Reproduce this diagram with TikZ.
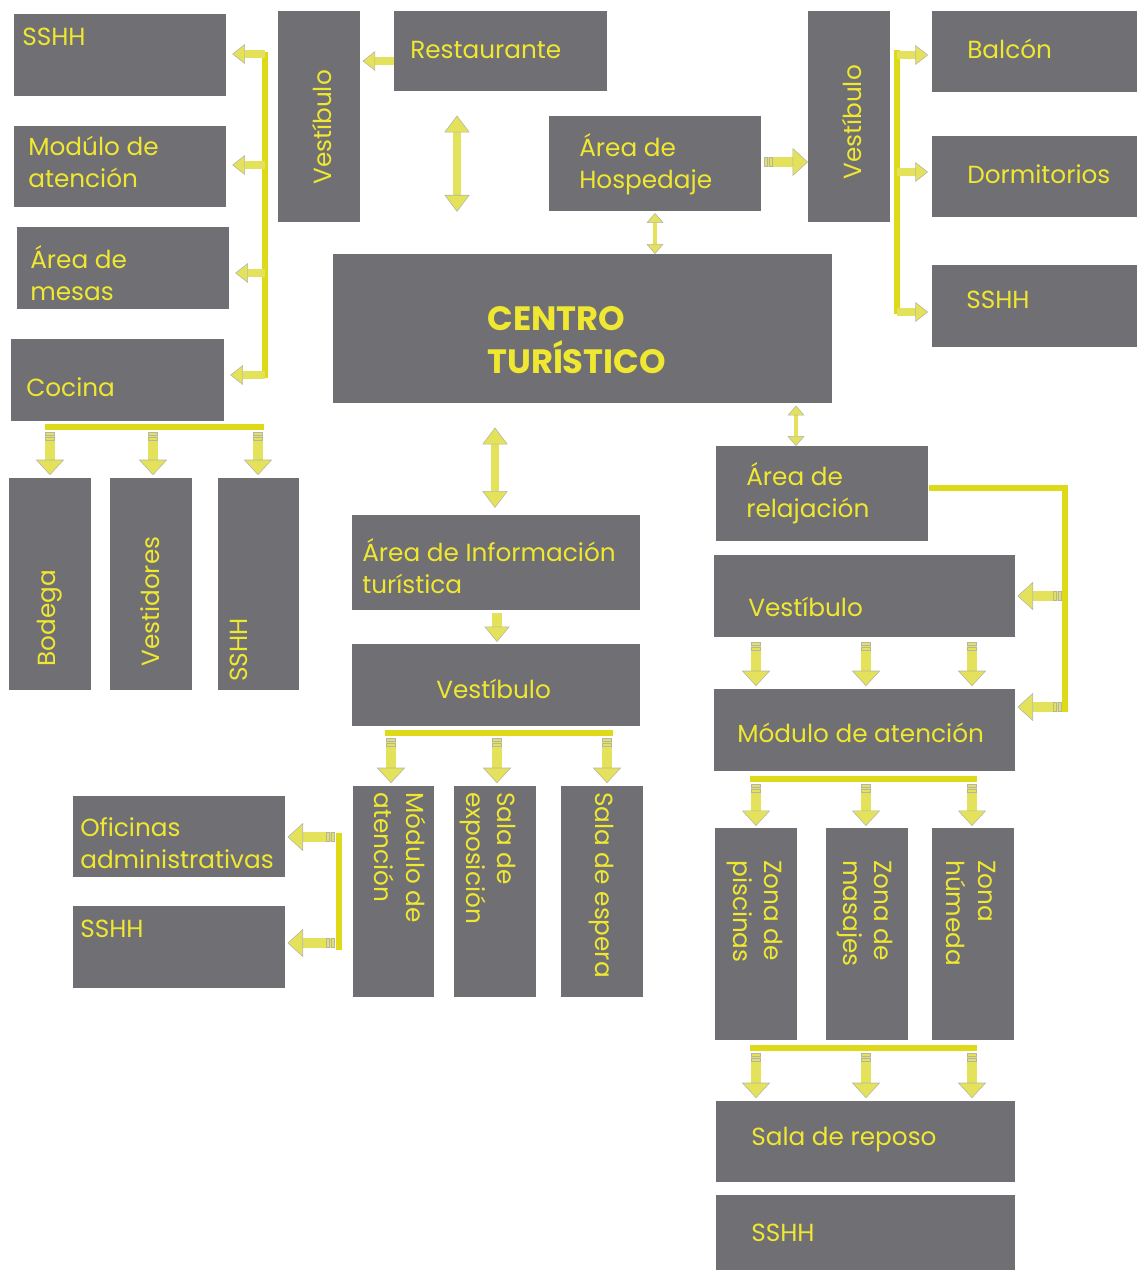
\documentclass[tikz,border=0pt]{standalone}
\usepackage{fontspec}
\newfontfamily\gothic{Poppins}
\usetikzlibrary{arrows.meta}

\definecolor{boxgray}{HTML}{706F74}
\definecolor{txtyel}{HTML}{F0E830}
\definecolor{barcol}{HTML}{DEDA1A}
\definecolor{afill}{HTML}{E4E25A}
\definecolor{aedge}{HTML}{B4B4AC}

\newcommand{\bx}[5]{\node[box, minimum width=#4*0.025cm, minimum height=#5*0.025cm] (#1) at (#2,#3) {};}

\tikzset{
  box/.style={fill=boxgray, inner sep=0pt, anchor=north west},
  lbl/.style={text=txtyel, inner sep=0pt, anchor=west, align=left, font=\gothic\fontsize{17.6}{22.5}\selectfont},
  bar/.style={draw=barcol, line width=4pt},
  tipA/.style={-{Triangle[width=14pt,length=9pt,color=aedge,fill=afill,line width=0.4pt]}},
  blk/.style={draw=afill, line width=6pt, tipA},
  blkt/.style={draw=afill, line width=7pt,
    {Rectangle[length=2.6pt,width=7pt,color=aedge,fill=afill,line width=0.4pt,sep=0.6pt]Rectangle[length=2.6pt,width=7pt,color=aedge,fill=afill,line width=0.4pt,sep=0.8pt]}-{Triangle[width=20pt,length=11pt,color=aedge,fill=afill,line width=0.4pt]}},
  blkb/.style={draw=afill, line width=7pt, -{Triangle[width=18pt,length=11pt,color=aedge,fill=afill,line width=0.4pt]}},
  dbl/.style={draw=afill, line width=5pt, {Triangle[width=18pt,length=12pt,color=aedge,fill=afill,line width=0.4pt]}-{Triangle[width=18pt,length=12pt,color=aedge,fill=afill,line width=0.4pt]}},
  dbls/.style={draw=afill, line width=3pt, {Triangle[width=12pt,length=7pt,color=aedge,fill=afill,line width=0.4pt]}-{Triangle[width=12pt,length=7pt,color=aedge,fill=afill,line width=0.4pt]}}
}

\begin{document}
\begin{tikzpicture}[x=0.025cm, y=-0.025cm]
\useasboundingbox (0,0) rectangle (1137,1270);

% boxes
\bx{sshhA}{14}{14}{212}{82}
\bx{modA}{14}{126}{212}{81}
\bx{mesas}{17}{227}{212}{82}
\bx{cocina}{11}{339}{213}{82}
\bx{vestA}{278}{11}{82}{211}
\bx{rest}{394}{11}{213}{80}
\bx{hosp}{549}{116}{212}{95}
\bx{vestB}{808}{11}{82}{211}
\bx{balcon}{932}{11}{205}{81}
\bx{dorm}{932}{136}{205}{81}
\bx{sshhB}{932}{265}{205}{82}
\bx{centro}{333}{254}{499}{149}
\bx{bodega}{9}{478}{82}{212}
\bx{vestid}{110}{478}{82}{212}
\bx{sshhC}{218}{478}{81}{212}
\bx{relaj}{716}{446}{212}{95}
\bx{vestC}{714}{555}{301}{82}
\bx{modC}{714}{689}{301}{82}
\bx{info}{352}{515}{288}{95}
\bx{vestD}{352}{644}{288}{82}
\bx{modD}{353}{786}{81}{211}
\bx{salaExp}{454}{786}{82}{211}
\bx{salaEsp}{561}{786}{82}{211}
\bx{ofic}{73}{796}{212}{81}
\bx{sshhD}{73}{906}{212}{82}
\bx{zonaP}{715}{828}{82}{212}
\bx{zonaM}{826}{828}{82}{212}
\bx{zonaH}{932}{828}{82}{212}
\bx{reposo}{716}{1101}{299}{81}
\bx{sshhE}{716}{1195}{299}{75}

% texts
\node[lbl] (sshhAT) at (22,37) {SSHH};
\node[lbl] (modAT) at (28,162) {Modúlo de\\atención};
\node[lbl] (mesasT) at (30,273) {Área de\\mesas};
\node[lbl] (cocinaT) at (26,387) {Cocina};
\node[lbl, rotate=90] (vestAT) at (322,185) {Vestíbulo};
\node[lbl] (restT) at (410,50) {Restaurante};
\node[lbl] (hospT) at (579,164) {Área de\\Hospedaje};
\node[lbl, rotate=90] (vestBT) at (852,180) {Vestíbulo};
\node[lbl] (balconT) at (967,49) {Balcón};
\node[lbl] (dormT) at (967,174) {Dormitorios};
\node[lbl] (sshhBT) at (966,300) {SSHH};
\node[lbl, font=\gothic\bfseries\fontsize{24}{31}\selectfont] (centroT) at (487,340) {CENTRO\\TURÍSTICO};
\node[lbl, rotate=90] (bodegaT) at (50,667) {Bodega};
\node[lbl, rotate=90] (vestidT) at (150,667) {Vestidores};
\node[lbl, rotate=90] (sshhCT) at (239,682) {SSHH};
\node[lbl] (relajT) at (746,493) {Área de\\relajación};
\node[lbl] (vestCT) at (748,607) {Vestíbulo};
\node[lbl] (modCT) at (737,733) {Módulo de atención};
\node[lbl] (infoT) at (362,566) {Área de Información\\turística};
\node[lbl] (vestDT) at (436,689) {Vestíbulo};
\node[lbl, rotate=-90] (modDT) at (400,792) {Módulo de\\atención};
\node[lbl, rotate=-90] (salaExpT) at (488,792) {Sala de\\exposición};
\node[lbl, rotate=-90] (salaEspT) at (601,792) {Sala de espera};
\node[lbl] (oficT) at (80,843) {Oficinas\\administrativas};
\node[lbl] (sshhDT) at (80,929) {SSHH};
\node[lbl, rotate=-90] (zonaPT) at (755,860) {Zona de\\piscinas};
\node[lbl, rotate=-90] (zonaMT) at (865,860) {Zona de\\masajes};
\node[lbl, rotate=-90] (zonaHT) at (971,860) {Zona\\húmeda};
\node[lbl] (reposoT) at (751,1140) {Sala de reposo};
\node[lbl] (sshhET) at (751,1233) {SSHH};

% restaurante side
\coordinate (lbT) at (265,52);
\coordinate (lbB) at (265,378);
\draw[bar] (lbT) -- (lbB);
\foreach \n/\y in {sshhA/54,modA/165,mesas/273,cocina/375}
{
\coordinate (p) at (265,\y);
\draw[blk, shorten >=4pt] (p) -- (p -| \n.east);
}
\coordinate (ra) at (394,61);
\draw[blk, shorten >=1.4pt] (ra) -- (ra -| vestA.east);
\coordinate (da) at (457,0);
\draw[dbl, shorten <=17pt, shorten >=30pt] (rest.south -| da) -- (centro.north -| da);

% hospedaje side
\coordinate (hb) at (763,162);
\draw[blkt] (hb) -- (hb -| vestB.west);
\coordinate (rbT) at (897,50);
\coordinate (rbB) at (897,314);
\draw[bar] (rbT) -- (rbB);
\foreach \n/\y in {balcon/55,dorm/172,sshhB/312}
{
\coordinate (p) at (897,\y);
\draw[blk, shorten >=2.8pt] (p) -- (p -| \n.west);
}
\coordinate (db) at (655,0);
\draw[dbls, shorten <=1pt] (hosp.south -| db) -- (centro.north -| db);
\coordinate (dc) at (796,0);
\draw[dbls, shorten <=1.4pt] (centro.south -| dc) -- (relaj.north -| dc);

% cocina
\coordinate (cbL) at (45,427);
\coordinate (cbR) at (264,427);
\draw[bar] (cbL) -- (cbR);
\foreach \n/\x in {bodega/50,vestid/153,sshhC/258}
{
\coordinate (p) at (\x,431);
\draw[blkt, shorten >=2pt] (p) -- (p |- \n.north);
}

% informacion
\coordinate (dd) at (495,0);
\draw[dbl, shorten <=17pt, shorten >=5pt] (centro.south -| dd) -- (info.north -| dd);
\coordinate (de) at (497,0);
\draw[blkb, shorten <=1.4pt, shorten >=1.4pt] (info.south -| de) -- (vestD.north -| de);
\coordinate (vbL) at (385,733);
\coordinate (vbR) at (613,733);
\draw[bar] (vbL) -- (vbR);
\foreach \n/\x in {modD/391,salaExp/497,salaEsp/607}
{
\coordinate (p) at (\x,737);
\draw[blkt, shorten >=2pt] (p) -- (p |- \n.north);
}
\coordinate (obT) at (339,833);
\coordinate (obB) at (339,950);
\draw[bar] (obT) -- (obB);
\foreach \n/\y in {ofic/837,sshhD/943}
{
\coordinate (p) at (335,\y);
\draw[blkt, shorten >=1.4pt] (p) -- (p -| \n.east);
}

% relajacion
\coordinate (rl2) at (1065,488);
\coordinate (rl3) at (1065,712);
\draw[bar] (relaj.east |- rl2) -- (rl2) -- (rl3);
\foreach \n/\y in {vestC/596,modC/707}
{
\coordinate (p) at (1062,\y);
\draw[blkt, shorten >=1.4pt] (p) -- (p -| \n.east);
}
\foreach \n/\x in {modC/756,modC/866,modC/972}
{
\coordinate (p) at (\x,641);
\draw[blkt, shorten >=2pt] (p) -- (p |- \n.north);
}
\coordinate (mbL) at (750,779);
\coordinate (mbR) at (977,779);
\draw[bar] (mbL) -- (mbR);
\foreach \n/\x in {zonaP/756,zonaM/866,zonaH/972}
{
\coordinate (p) at (\x,783);
\draw[blkt, shorten >=1.4pt] (p) -- (p |- \n.north);
}
\coordinate (zbL) at (750,1048);
\coordinate (zbR) at (977,1048);
\draw[bar] (zbL) -- (zbR);
\foreach \x in {756,866,972}
{
\coordinate (p) at (\x,1052);
\draw[blkt, shorten >=2pt] (p) -- (p |- reposo.north);
}
\end{tikzpicture}
\end{document}
